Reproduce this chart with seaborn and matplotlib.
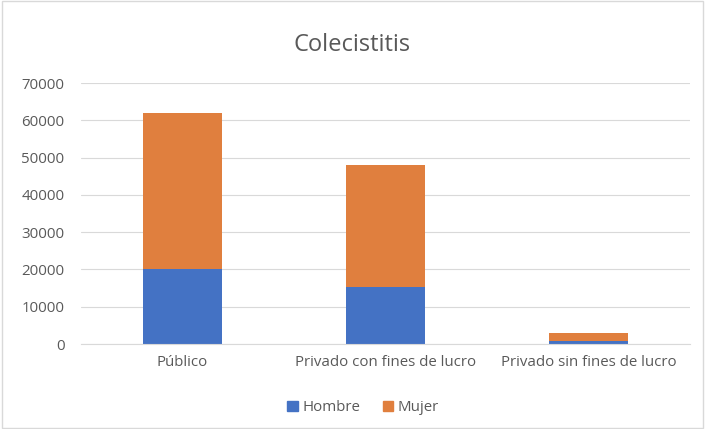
import matplotlib

matplotlib.use("Agg")
import matplotlib.pyplot as plt
import pandas as pd
import seaborn as sns
from matplotlib.patches import Patch

categories = ["Público", "Privado con fines de lucro", "Privado sin fines de lucro"]
hombre = [20000, 15400, 800]
mujer = [42000, 32600, 2200]

BLUE = "#4472C4"
ORANGE = "#E07F3E"
GRAY = "#595959"

sns.set_style("white")
plt.rcParams["font.family"] = ["Open Sans", "DejaVu Sans"]

df = pd.DataFrame({"categoria": categories, "Hombre": hombre, "Mujer": mujer})
df["total"] = df["Hombre"] + df["Mujer"]

fig = plt.figure(figsize=(7.05, 4.29), dpi=100)
ax = fig.add_axes([0.115, 0.198, 0.864, 0.6085])

sns.barplot(data=df, x="categoria", y="total", color=ORANGE, width=0.39,
            saturation=1, linewidth=0, ax=ax)
sns.barplot(data=df, x="categoria", y="Hombre", color=BLUE, width=0.39,
            saturation=1, linewidth=0, ax=ax)

ax.set_ylim(0, 70000)
ax.set_yticks(range(0, 70001, 10000))
ax.yaxis.grid(True, color="#D9D9D9", linewidth=0.8)
ax.set_axisbelow(True)
for side in ["left", "right", "top"]:
    ax.spines[side].set_visible(False)
ax.spines["bottom"].set_color("#D9D9D9")
ax.tick_params(axis="both", length=0, colors=GRAY, labelsize=10.8, pad=8)
ax.tick_params(axis="y", pad=12)
ax.set_xlabel("")
ax.set_ylabel("")

fig.text(0.5, 0.895, "Colecistitis", ha="center", va="center",
         fontsize=17, color=GRAY)

handles = [Patch(color=BLUE, label="Hombre"), Patch(color=ORANGE, label="Mujer")]
fig.legend(handles=handles, loc="center", bbox_to_anchor=(0.515, 0.05), ncol=2,
           frameon=False, fontsize=10.8, labelcolor=GRAY, handlelength=0.7,
           handleheight=0.7, handletextpad=0.3, columnspacing=1.5)

border = plt.Rectangle((0.003, 0.003), 0.994, 0.994, transform=fig.transFigure,
                       fill=False, edgecolor="#D9D9D9", linewidth=1)
fig.patches.append(border)

fig.savefig("out.png", dpi=100)
plt.close(fig)
